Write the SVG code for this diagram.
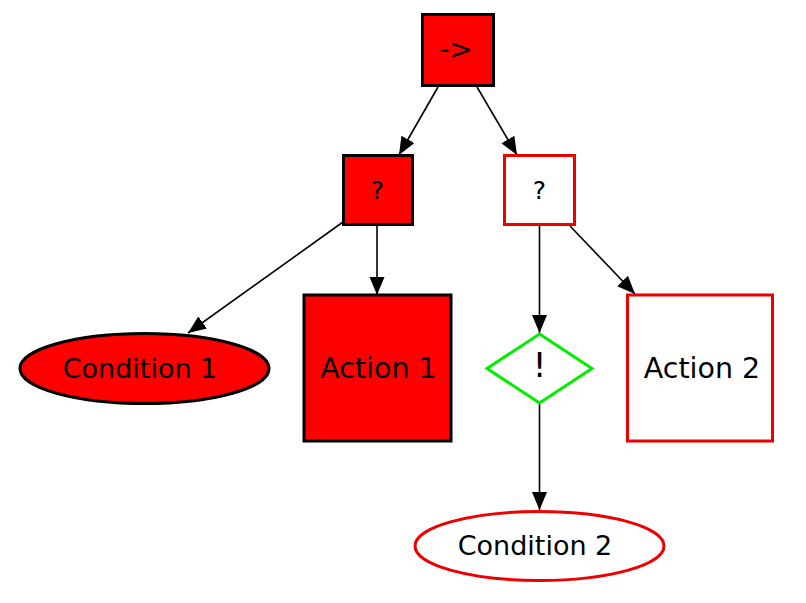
<svg xmlns="http://www.w3.org/2000/svg" width="806" height="603" viewBox="0 0 806 603">
<style>
text{font-family:"DejaVu Sans",sans-serif;text-anchor:middle;dominant-baseline:central;fill:#000}
.blk{fill:#ff0000;stroke:#000;stroke-width:3}
.red{fill:#fff;stroke:#ee0000;stroke-width:3}
.grn{fill:#fff;stroke:#00ee00;stroke-width:3}
.e{stroke:#000;stroke-width:1.6;fill:none;marker-end:url(#ah)}
</style>
<defs>
<marker id="ah" markerUnits="userSpaceOnUse" markerWidth="18" markerHeight="18" viewBox="0 0 18 18" refX="18" refY="9" orient="auto">
<path d="M0,1.5 L18,9 L0,16.5 Z" fill="#000"/>
</marker>
</defs>
<rect width="806" height="603" fill="#fff"/>
<g id="edges">
<line class="e" x1="438" y1="87" x2="399" y2="155"/>
<line class="e" x1="477" y1="87" x2="517" y2="155"/>
<line class="e" x1="343" y1="222" x2="188" y2="333"/>
<line class="e" x1="377" y1="226" x2="377" y2="295"/>
<line class="e" x1="539.5" y1="226" x2="539.5" y2="333"/>
<line class="e" x1="570" y1="226" x2="635" y2="294"/>
<line class="e" x1="539.5" y1="404" x2="539.5" y2="510"/>
</g>
<g id="root"><rect class="blk" x="422.5" y="14.5" width="71" height="71"/><text x="456" y="49" font-size="28">-&gt;</text></g>
<g id="sel1"><rect class="blk" x="343.5" y="155.5" width="69" height="69"/><text x="377.5" y="190" font-size="25">?</text></g>
<g id="sel2"><rect class="red" x="504.5" y="155.5" width="70" height="69"/><text x="539.5" y="190" font-size="25">?</text></g>
<g id="cond1"><ellipse class="blk" cx="144.5" cy="368.5" rx="124.5" ry="35"/><text x="140" y="368" font-size="27">Condition 1</text></g>
<g id="act1"><rect class="blk" x="304" y="295" width="147" height="146"/><text x="378.5" y="368" font-size="28.5">Action 1</text></g>
<g id="not"><polygon class="grn" points="539.5,334 592,368.5 539.5,403 487,368.5"/><text x="539.5" y="365" font-size="34">!</text></g>
<g id="act2"><rect class="red" x="627.5" y="295" width="145" height="146"/><text x="702" y="368" font-size="28.5">Action 2</text></g>
<g id="cond2"><ellipse class="red" cx="539.5" cy="546" rx="124.5" ry="34.5"/><text x="535" y="545" font-size="27">Condition 2</text></g>
</svg>
